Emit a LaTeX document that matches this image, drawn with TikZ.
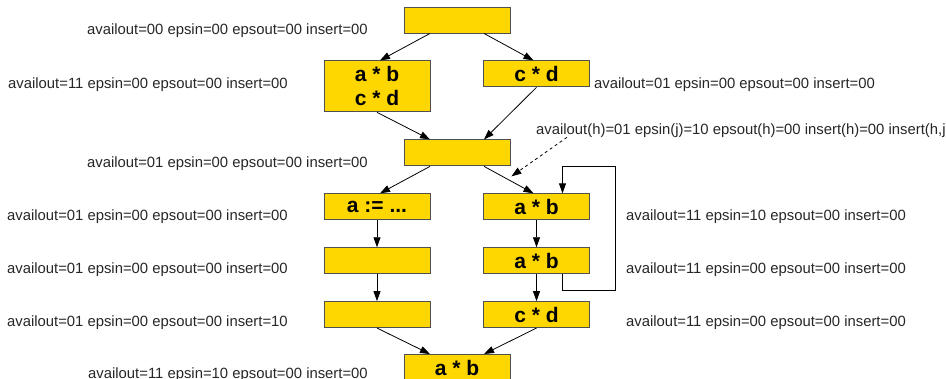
\documentclass[tikz,border=0pt]{standalone}
\usepackage{fontspec}
\setmainfont{Liberation Sans}
\usepackage{xcolor}
\usepackage{tikz}
\usetikzlibrary{arrows.meta, positioning, calc}
\definecolor{boxfill}{HTML}{FFD700}
\definecolor{boxline}{HTML}{505050}
\tikzstyle{block} = [rectangle, minimum width=106pt, minimum height=26pt, inner sep=0pt, align=center, draw=boxline, line width=0.9pt, fill=boxfill, font=\fontsize{21}{24}\selectfont\bfseries]
\tikzstyle{info} = [inner sep=0pt, text=black!85, font=\fontsize{14.85}{18}\selectfont]
\tikzstyle{arrow} = [line width=0.8pt, ->, >={Triangle[length=10pt,width=7pt]}]

\begin{document}
\begin{tikzpicture}[node distance=27pt]
        \clip (0,0) rectangle (946pt,-378pt);
        \node (top) [block] at (457pt,-20pt) {};
        \node (ab1) [block, minimum height=51pt, below=of top, xshift=-80pt] {a * b\\c * d};
        \node (cd1) [block, below=of top, xshift=79.5pt] {c * d};
        \node (join) [block, below=106pt of top] {};
        \node (def) [block, below=of join, xshift=-80pt] {a := ...};
        \node (ab2) [block, below=of join, xshift=79.5pt] {a * b};
        \node (emptyA) [block, below=of def] {};
        \node (ab3) [block, below=of ab2] {a * b};
        \node (emptyB) [block, below=of emptyA] {};
        \node (cd2) [block, below=of ab3] {c * d};
        \node (exit) [block, below=26pt of emptyB, xshift=80pt] {a * b};

        \node (inTop) [info, anchor=base east] at (368pt,-34pt) {availout=00 epsin=00 epsout=00 insert=00};
        \node (inAb1) [info, anchor=base east] at (288pt,-88pt) {availout=11 epsin=00 epsout=00 insert=00};
        \node (inCd1) [info, anchor=base west] at (594pt,-88pt) {availout=01 epsin=00 epsout=00 insert=00};
        \node (hint) [info, anchor=base west] at (536pt,-134pt) {availout(h)=01 epsin(j)=10 epsout(h)=00 insert(h)=00 insert(h,j)};
        \node (inJoin) [info, anchor=base east] at (368pt,-167pt) {availout=01 epsin=00 epsout=00 insert=00};
        \node (inDef) [info, anchor=base east] at (288pt,-220pt) {availout=01 epsin=00 epsout=00 insert=00};
        \node (inAb2) [info, anchor=base west] at (626pt,-220pt) {availout=11 epsin=10 epsout=00 insert=00};
        \node (inEmptyA) [info, anchor=base east] at (288pt,-273pt) {availout=01 epsin=00 epsout=00 insert=00};
        \node (inAb3) [info, anchor=base west] at (626pt,-273pt) {availout=11 epsin=00 epsout=00 insert=00};
        \node (inEmptyB) [info, anchor=base east] at (288pt,-326pt) {availout=01 epsin=00 epsout=00 insert=10};
        \node (inCd2) [info, anchor=base west] at (626pt,-326pt) {availout=11 epsin=00 epsout=00 insert=00};
        \node (inExit) [info, anchor=base east] at (368pt,-378pt) {availout=11 epsin=10 epsout=00 insert=00};

        \coordinate (hit) at ($(join.south east)+(1pt,-10pt)$);

        \draw [arrow] ([xshift=-27pt]top.south) -- ([xshift=3pt]ab1.north);
        \draw [arrow] ([xshift=27pt]top.south) -- ([xshift=-3pt]cd1.north);
        \draw [arrow] (ab1.south) -- ([xshift=-27pt]join.north);
        \draw [arrow] (cd1.south) -- ([xshift=27pt]join.north);
        \draw [arrow] ([xshift=-27pt]join.south) -- ([xshift=3pt]def.north);
        \draw [arrow] ([xshift=27pt]join.south) -- ([xshift=-3pt]ab2.north);
        \draw [arrow] (def) -- (emptyA);
        \draw [arrow] (emptyA) -- (emptyB);
        \draw [arrow] (ab2) -- (ab3);
        \draw [arrow] (ab3) -- (cd2);
        \draw [arrow] (emptyB.south) -- ([xshift=-27pt]exit.north);
        \draw [arrow] (cd2.south) -- ([xshift=27pt]exit.north);
        \draw [arrow] ([xshift=26pt]ab3.south) -- ++(0,-16pt) -| ($(ab2.north)+(79pt,27pt)$) -| ([xshift=26pt]ab2.north);
        \draw [arrow, dashed] ([xshift=31pt]hint.south west) -- (hit);
    \end{tikzpicture}
\end{document}
